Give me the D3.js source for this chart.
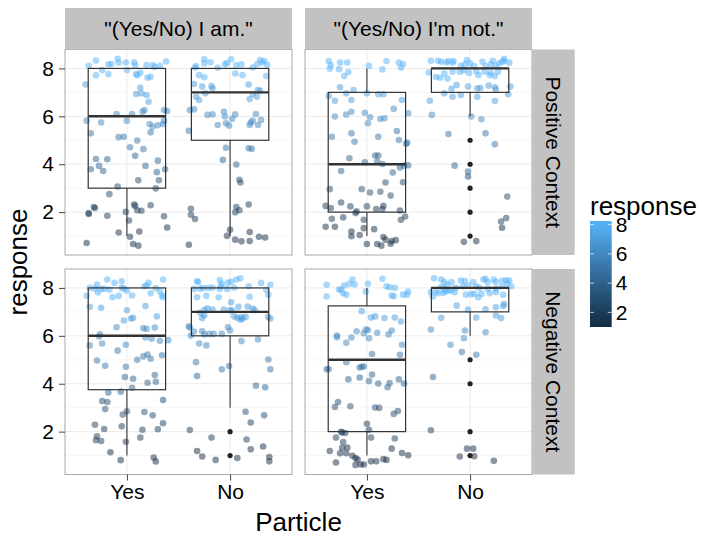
<!DOCTYPE html>
<html>
<head>
<meta charset="utf-8">
<script src="https://d3js.org/d3.v7.min.js"></script>
<style>
body { margin: 0; background: #fff; }
text { font-family: "Liberation Sans", Arial, Helvetica, sans-serif; fill: #000; }
</style>
</head>
<body>
<div id="chart"></div>
<script>
// facet labels and categories
const particles = ["Yes", "No"];
const questions = ['"(Yes/No) I am."', '"(Yes/No) I\'m not."'];
const contexts = ["Positive Context", "Negative Context"];
const yTicks = [2, 4, 6, 8];
const yMinor = [1, 3, 5, 7];
const legendTicks = [2, 4, 6, 8];

// jittered points: [x jitter (category units), jittered response]
const posAmYes = [[-0.37,8.11],[-0.30,8.33],[-0.24,7.93],[-0.30,7.71],[-0.18,8.17],[-0.15,8.18],[-0.09,8.40],[-0.08,8.24],[-0.01,8.25],[0.00,7.93],[0.07,8.26],[0.08,8.13],[0.10,7.72],[0.09,7.76],[0.13,7.82],[0.19,8.14],[0.20,7.61],[0.23,7.65],[0.25,8.14],[0.27,8.07],[0.32,8.11],[0.38,8.29],[-0.40,7.33],[-0.18,7.76],[0.13,7.19],[0.09,6.93],[0.14,6.96],[0.19,6.89],[0.21,6.61],[0.17,6.26],[0.15,6.19],[0.36,6.26],[0.39,6.22],[-0.10,6.10],[0.05,6.10],[-0.39,5.82],[-0.25,5.74],[0.00,5.82],[0.22,5.68],[0.25,5.57],[0.30,5.63],[0.35,5.68],[0.36,5.82],[-0.35,5.29],[-0.08,5.13],[-0.03,5.15],[0.10,4.99],[0.23,5.33],[0.03,4.71],[0.16,4.63],[0.08,4.35],[-0.30,4.22],[-0.19,4.21],[0.30,4.15],[-0.27,3.93],[-0.35,3.79],[-0.23,3.72],[0.18,3.93],[0.37,3.79],[0.29,3.67],[0.11,3.33],[0.31,3.33],[-0.09,3.07],[0.28,2.99],[-0.17,2.75],[-0.32,2.21],[-0.37,1.96],[-0.37,1.92],[-0.31,2.17],[-0.19,1.85],[-0.01,2.01],[0.07,2.32],[0.08,2.26],[0.10,2.08],[0.14,2.06],[0.23,2.29],[0.36,1.83],[0.02,1.65],[0.39,1.36],[-0.08,1.15],[0.12,1.19],[0.03,0.97],[-0.39,0.71],[0.06,0.67],[0.11,0.60]];
const posAmNo = [[-0.33,8.10],[-0.34,8.04],[-0.25,8.38],[-0.25,8.21],[-0.19,8.26],[-0.12,8.03],[-0.05,8.17],[-0.03,8.22],[0.01,8.38],[0.05,7.79],[0.06,8.14],[0.11,8.17],[0.12,7.72],[0.22,8.04],[0.26,8.17],[0.29,8.35],[0.31,8.24],[0.33,8.32],[0.36,8.15],[0.35,7.68],[-0.35,7.35],[-0.30,7.72],[-0.25,7.63],[-0.27,7.24],[-0.18,7.26],[-0.17,7.17],[-0.24,6.96],[-0.33,6.82],[-0.30,6.68],[0.18,7.33],[0.22,6.93],[0.27,7.10],[0.29,7.07],[0.19,6.72],[0.26,6.82],[-0.39,6.26],[-0.35,6.29],[-0.22,6.06],[-0.17,6.08],[-0.06,6.19],[-0.05,5.99],[0.02,5.90],[0.05,6.08],[0.25,6.10],[0.20,5.74],[0.22,5.82],[0.30,5.85],[-0.12,5.64],[-0.04,5.71],[-0.01,5.61],[0.19,5.64],[0.27,5.64],[-0.40,5.40],[0.18,4.67],[0.21,4.64],[-0.04,4.69],[-0.07,4.18],[0.06,3.99],[0.09,3.35],[0.10,3.24],[0.06,2.21],[0.09,2.08],[0.05,1.99],[0.18,2.32],[-0.38,2.14],[-0.38,1.89],[-0.34,1.71],[0.00,1.26],[-0.03,1.01],[0.05,0.85],[0.11,0.78],[0.19,0.79],[0.19,1.17],[0.28,0.97],[0.34,0.94],[-0.40,0.64]];
const posNotYes = [[-0.37,8.31],[-0.35,8.14],[-0.36,7.99],[-0.26,8.25],[-0.19,8.25],[-0.27,7.97],[-0.22,7.68],[-0.18,7.85],[0.02,8.11],[0.15,7.96],[0.19,8.31],[0.31,8.24],[0.35,8.18],[0.33,8.03],[-0.26,7.21],[-0.37,6.85],[-0.31,6.65],[-0.20,6.96],[-0.13,7.10],[-0.15,6.68],[0.00,6.96],[0.11,6.92],[0.16,6.92],[0.34,6.68],[0.26,6.31],[0.40,6.13],[-0.31,5.99],[-0.20,6.07],[-0.15,6.19],[-0.02,6.15],[0.03,5.96],[0.01,5.71],[0.13,5.89],[0.17,5.92],[-0.34,5.15],[-0.15,5.29],[-0.12,4.94],[0.11,5.15],[0.29,5.39],[0.31,5.01],[0.38,4.85],[0.39,4.90],[-0.17,4.25],[-0.02,4.08],[0.08,4.36],[0.11,4.36],[0.10,4.11],[0.15,4.01],[0.32,3.86],[0.36,3.94],[0.40,3.96],[-0.25,3.72],[0.25,3.65],[0.35,3.25],[-0.36,2.96],[0.18,3.24],[-0.05,2.96],[0.03,2.82],[0.13,2.85],[0.23,2.69],[-0.40,2.26],[-0.35,2.17],[-0.25,2.40],[-0.16,2.24],[-0.10,2.03],[0.00,2.24],[0.09,2.13],[0.15,2.13],[0.16,2.26],[0.32,2.07],[-0.34,1.72],[-0.23,1.78],[-0.11,1.96],[-0.03,1.68],[0.37,1.82],[0.33,1.68],[-0.40,1.39],[-0.31,1.39],[-0.03,1.33],[0.07,1.29],[-0.15,1.19],[-0.15,0.99],[-0.07,1.04],[0.16,0.96],[0.18,0.85],[0.24,0.79],[0.28,0.83],[0.00,0.67],[0.10,0.67],[0.14,0.60],[0.23,0.68]];
const posNotNo = [[-0.38,8.32],[-0.31,8.32],[-0.28,8.28],[-0.23,8.25],[-0.21,8.31],[-0.17,8.24],[-0.16,8.31],[-0.09,8.11],[-0.05,8.17],[-0.03,8.35],[0.00,8.21],[0.04,8.10],[0.12,8.28],[0.15,8.10],[0.20,8.17],[0.22,8.32],[0.25,8.10],[0.28,8.21],[0.31,8.28],[0.33,8.40],[0.38,8.24],[0.33,8.31],[-0.40,7.83],[-0.33,7.64],[-0.29,7.61],[-0.25,7.79],[-0.17,7.86],[-0.10,7.86],[-0.06,7.92],[-0.01,7.81],[0.06,7.88],[0.08,7.72],[0.14,7.86],[0.20,7.82],[0.27,7.86],[0.24,7.68],[0.19,7.71],[-0.22,7.58],[-0.18,7.15],[-0.13,7.31],[-0.02,7.24],[0.07,7.17],[0.10,7.18],[0.18,7.28],[0.24,7.21],[0.39,7.24],[-0.25,6.96],[-0.17,6.82],[-0.09,6.89],[0.07,6.82],[0.25,7.13],[0.37,6.92],[-0.39,6.65],[0.24,6.64],[-0.37,6.06],[0.01,5.99],[0.11,5.88],[-0.21,5.26],[0.15,5.29],[0.24,4.83],[-0.15,3.94],[-0.02,3.69],[-0.02,3.49],[0.36,2.65],[0.30,1.61],[0.35,1.75],[0.31,1.35],[-0.06,0.76],[0.06,0.79]];
const negAmYes = [[-0.39,7.67],[-0.36,8.01],[-0.31,7.97],[-0.29,8.14],[-0.28,7.81],[-0.25,7.96],[-0.22,7.96],[-0.19,8.35],[-0.17,7.92],[-0.14,7.61],[-0.12,8.21],[-0.08,7.67],[-0.05,8.28],[-0.05,8.01],[-0.03,7.97],[0.00,7.88],[0.05,7.68],[0.17,8.06],[0.19,8.10],[0.21,8.21],[0.23,7.78],[0.28,7.99],[0.32,7.85],[0.35,8.35],[0.34,7.68],[0.35,7.61],[-0.36,7.21],[-0.25,7.17],[0.00,7.07],[-0.03,6.64],[0.04,6.72],[0.06,6.75],[0.18,7.24],[0.29,6.81],[-0.10,6.36],[0.16,6.32],[0.19,6.29],[0.27,6.35],[-0.26,6.06],[-0.27,5.97],[-0.24,5.68],[-0.36,5.60],[-0.09,5.38],[-0.01,5.63],[0.18,5.93],[0.24,5.88],[0.32,5.79],[0.40,5.82],[0.34,5.19],[-0.29,4.97],[-0.21,4.75],[-0.01,4.71],[0.10,5.00],[0.16,5.14],[0.20,5.22],[0.23,5.04],[-0.02,4.28],[0.06,4.21],[0.27,4.36],[0.28,4.08],[0.20,4.04],[-0.18,3.63],[-0.06,3.67],[-0.24,3.28],[-0.19,3.24],[-0.21,2.94],[0.05,3.83],[0.35,3.32],[-0.04,2.71],[0.00,2.85],[0.17,2.82],[0.25,2.68],[-0.31,2.29],[-0.22,2.11],[-0.05,2.22],[0.15,2.08],[0.30,2.10],[0.35,2.35],[-0.29,1.81],[-0.30,1.64],[-0.25,1.61],[-0.01,1.58],[0.13,1.75],[-0.16,1.14],[-0.06,0.81],[0.26,0.92],[0.28,0.75]];
const negAmNo = [[-0.32,8.28],[-0.31,8.25],[-0.10,8.33],[-0.08,8.17],[-0.09,8.07],[-0.02,8.22],[0.01,8.26],[0.06,8.35],[0.10,8.40],[0.30,8.21],[0.39,8.13],[-0.35,7.96],[-0.29,7.97],[-0.26,8.00],[-0.21,8.00],[-0.17,8.01],[-0.10,7.96],[-0.03,7.96],[0.04,8.01],[0.18,8.07],[0.35,7.92],[-0.32,7.61],[-0.23,7.67],[-0.11,7.61],[0.01,7.40],[0.19,7.63],[0.37,7.71],[-0.22,7.15],[-0.25,7.08],[-0.29,6.96],[-0.25,6.86],[-0.27,6.74],[-0.17,7.10],[-0.06,7.10],[0.00,7.07],[0.02,7.06],[0.08,7.21],[0.17,7.22],[0.22,7.14],[0.24,7.07],[0.04,6.81],[0.07,6.75],[0.11,6.78],[0.10,6.67],[0.12,6.71],[0.15,6.79],[0.37,6.79],[0.39,6.72],[-0.40,6.40],[-0.39,6.35],[-0.38,6.01],[-0.35,6.18],[-0.27,6.19],[-0.25,6.06],[-0.20,6.08],[-0.16,6.08],[-0.08,6.08],[-0.02,6.36],[0.00,6.22],[0.11,5.78],[0.27,5.85],[-0.30,5.68],[-0.23,5.60],[-0.33,4.90],[-0.32,4.32],[-0.08,4.60],[-0.01,4.74],[0.37,5.01],[0.39,4.60],[0.25,3.92],[0.34,3.85],[0.15,2.83],[0.20,2.38],[0.33,2.68],[-0.39,2.07],[-0.18,1.75],[0.16,1.67],[0.20,1.26],[0.32,1.38],[-0.32,1.19],[-0.27,0.96],[-0.14,0.82],[0.07,0.90],[0.38,0.94],[0.38,0.76]];
const negNotYes = [[-0.39,8.13],[-0.39,7.64],[-0.27,7.93],[-0.25,7.92],[-0.23,7.78],[-0.22,8.10],[-0.20,7.71],[-0.17,8.17],[-0.14,8.35],[-0.12,8.14],[-0.01,7.85],[0.01,8.17],[0.15,8.38],[0.19,8.07],[0.22,8.03],[0.24,7.68],[0.26,7.65],[0.27,8.00],[0.35,7.72],[0.40,7.85],[0.39,7.72],[-0.05,7.03],[0.04,6.76],[0.08,6.81],[0.17,6.74],[0.27,6.76],[0.33,6.60],[-0.29,6.01],[-0.29,5.94],[-0.20,5.71],[-0.15,5.93],[-0.10,6.19],[-0.03,6.11],[-0.01,6.26],[0.01,6.24],[0.02,5.90],[0.10,6.13],[0.21,6.06],[0.24,6.22],[0.34,5.63],[0.05,5.24],[0.32,5.21],[-0.20,4.90],[-0.39,4.60],[-0.37,4.61],[-0.07,4.68],[-0.05,4.71],[-0.03,4.72],[0.05,4.38],[-0.18,4.18],[-0.07,4.26],[0.02,4.11],[0.11,4.01],[0.20,3.85],[0.22,4.03],[0.31,4.18],[0.36,4.01],[-0.28,3.24],[-0.31,3.03],[-0.16,3.06],[0.08,3.01],[0.12,2.99],[0.26,2.74],[0.30,2.86],[0.00,2.33],[0.02,2.08],[-0.25,1.99],[-0.24,1.96],[-0.21,1.94],[-0.30,1.75],[0.04,1.75],[0.27,1.71],[-0.23,1.57],[-0.24,1.32],[-0.19,1.33],[-0.36,1.19],[-0.26,1.10],[-0.20,1.10],[-0.14,0.99],[-0.11,0.90],[-0.09,0.83],[-0.06,0.63],[-0.03,0.63],[0.04,0.76],[0.09,0.76],[0.16,0.85],[0.19,0.82],[0.24,1.29],[0.34,1.11],[0.40,1.01],[-0.30,0.71],[-0.11,0.61]];
const negNotNo = [[-0.35,8.40],[-0.28,8.35],[-0.25,8.24],[-0.22,8.14],[-0.18,8.24],[-0.09,8.31],[-0.05,8.29],[0.03,8.24],[0.13,8.35],[0.15,8.38],[0.17,8.24],[0.23,8.35],[0.25,8.24],[0.31,8.31],[0.35,8.32],[0.38,8.31],[0.36,8.17],[0.40,8.07],[-0.28,8.04],[-0.25,7.96],[-0.21,7.89],[-0.14,8.00],[-0.07,8.07],[-0.02,8.10],[0.06,8.07],[0.09,8.00],[0.17,7.96],[0.25,7.96],[0.31,8.07],[-0.38,7.82],[-0.33,7.85],[-0.31,7.78],[-0.26,7.79],[-0.24,7.85],[-0.19,7.89],[-0.15,7.82],[-0.04,7.72],[0.01,7.74],[0.04,7.75],[0.08,7.61],[0.11,7.75],[0.19,7.78],[0.25,7.82],[0.32,7.71],[-0.36,7.64],[0.33,7.33],[0.32,7.24],[0.25,7.19],[-0.13,7.26],[-0.02,7.10],[0.15,7.11],[0.25,6.85],[0.30,6.74],[-0.28,6.75],[0.06,6.76],[-0.38,6.26],[-0.05,6.22],[-0.06,5.90],[0.15,6.15],[-0.19,5.63],[-0.08,5.32],[0.06,5.21],[-0.36,4.28],[-0.38,2.06],[-0.03,1.29],[0.03,1.29],[-0.10,0.96],[0.04,0.97],[0.23,0.78]];

// boxplot stats: [lower whisker, q1, median, q3, upper whisker]
const posAmYesBox = [1, 3, 6, 8, 8];
const posAmNoBox = [1, 5, 7, 8, 8];
const posNotYesBox = [1, 2, 4, 7, 8];
const posNotNoBox = [6, 7, 8, 8, 8];
const negAmYesBox = [1, 3.75, 6, 8, 8];
const negAmNoBox = [3, 6, 7, 8, 8];
const negNotYesBox = [1, 2, 5, 7.25, 8];
const negNotNoBox = [6, 7, 8, 8, 8];
// outliers
const posNotNoOut = [5, 4, 3, 2, 1];
const negAmNoOut = [2, 1];
const negNotNoOut = [5, 4, 2, 1];

const panels = [
  {row: 0, col: 0, groups: [{p: "Yes", pts: posAmYes, box: posAmYesBox, out: []}, {p: "No", pts: posAmNo, box: posAmNoBox, out: []}]},
  {row: 0, col: 1, groups: [{p: "Yes", pts: posNotYes, box: posNotYesBox, out: []}, {p: "No", pts: posNotNo, box: posNotNoBox, out: posNotNoOut}]},
  {row: 1, col: 0, groups: [{p: "Yes", pts: negAmYes, box: negAmYesBox, out: []}, {p: "No", pts: negAmNo, box: negAmNoBox, out: negAmNoOut}]},
  {row: 1, col: 1, groups: [{p: "Yes", pts: negNotYes, box: negNotYesBox, out: []}, {p: "No", pts: negNotNo, box: negNotNoBox, out: negNotNoOut}]}
];

const width = 702, height = 536;
const colX = [65, 305], panelW = 227;
const rowY = [49.5, 269], panelH = 205.5;
const stripTop = 8, stripRightW = 42.7;

const svg = d3.select("#chart").append("svg")
    .attr("width", width)
    .attr("height", height);

// colour scale (ggplot default gradient)
const color = d3.scaleLinear()
    .domain([1, 8])
    .range(["#132B43", "#56B1F7"])
    .interpolate(d3.interpolateLab)
    .clamp(true);

panels.forEach(function(pan) {
    const x0 = colX[pan.col], y0 = rowY[pan.row];
    const x = d3.scalePoint().domain(particles).range([x0, x0 + panelW]).padding(0.6);
    const y = d3.scaleLinear().domain([0.21, 8.79]).range([y0 + panelH, y0]);
    const step = x.step();
    const g = svg.append("g");

    g.append("rect")
        .attr("x", x0).attr("y", y0).attr("width", panelW).attr("height", panelH)
        .attr("fill", "#fff");

    // grid
    g.selectAll(".minor").data(yMinor).enter().append("line")
        .attr("x1", x0).attr("x2", x0 + panelW)
        .attr("y1", d => y(d)).attr("y2", d => y(d))
        .attr("stroke", "#f5f5f5").attr("stroke-width", 0.8);
    g.selectAll(".major").data(yTicks).enter().append("line")
        .attr("x1", x0).attr("x2", x0 + panelW)
        .attr("y1", d => y(d)).attr("y2", d => y(d))
        .attr("stroke", "#ebebeb").attr("stroke-width", 1);
    g.selectAll(".vmajor").data(particles).enter().append("line")
        .attr("x1", d => x(d)).attr("x2", d => x(d))
        .attr("y1", y0).attr("y2", y0 + panelH)
        .attr("stroke", "#ebebeb").attr("stroke-width", 1);

    pan.groups.forEach(function(grp) {
        const cx = x(grp.p);
        // jittered points
        g.append("g").selectAll("circle").data(grp.pts).enter().append("circle")
            .attr("cx", d => cx + d[0] * step)
            .attr("cy", d => y(d[1]))
            .attr("r", 3.3)
            .attr("fill", d => color(Math.round(d[1])))
            .attr("fill-opacity", 0.5);

        // boxplot
        const b = grp.box, bw = 0.75 * step;
        const bg = g.append("g").attr("stroke", "#333").attr("fill", "none");
        bg.append("line").attr("x1", cx).attr("x2", cx).attr("y1", y(b[0])).attr("y2", y(b[1])).attr("stroke-width", 1.1);
        bg.append("line").attr("x1", cx).attr("x2", cx).attr("y1", y(b[3])).attr("y2", y(b[4])).attr("stroke-width", 1.1);
        bg.append("rect").attr("x", cx - bw / 2).attr("width", bw)
            .attr("y", y(b[3])).attr("height", y(b[1]) - y(b[3])).attr("stroke-width", 1.2);
        bg.append("line").attr("x1", cx - bw / 2).attr("x2", cx + bw / 2)
            .attr("y1", y(b[2])).attr("y2", y(b[2])).attr("stroke-width", 2.4);
        g.append("g").selectAll("circle").data(grp.out).enter().append("circle")
            .attr("cx", cx).attr("cy", d => y(d)).attr("r", 2.6).attr("fill", "#222");
    });

    g.append("rect")
        .attr("x", x0).attr("y", y0).attr("width", panelW).attr("height", panelH)
        .attr("fill", "none").attr("stroke", "#a8a8a8").attr("stroke-width", 1);

    // axes
    if (pan.col === 0) {
        const ax = g.append("g").attr("transform", `translate(${x0},0)`)
            .call(d3.axisLeft(y).tickValues(yTicks).tickSize(6).tickPadding(5));
        ax.select(".domain").remove();
        ax.selectAll("line").attr("stroke", "#444");
        ax.selectAll("text").style("font-size", "21px").attr("fill", "#000")
            .style("font-family", '"Liberation Sans", Arial, sans-serif');
    }
    if (pan.row === 1) {
        const ax = g.append("g").attr("transform", `translate(0,${y0 + panelH})`)
            .call(d3.axisBottom(x).tickSize(6).tickPadding(4));
        ax.select(".domain").remove();
        ax.selectAll("line").attr("stroke", "#444");
        ax.selectAll("text").style("font-size", "21px").attr("fill", "#000")
            .style("font-family", '"Liberation Sans", Arial, sans-serif');
    }
});

// top strips
questions.forEach(function(q, i) {
    svg.append("rect")
        .attr("x", colX[i]).attr("y", stripTop)
        .attr("width", panelW).attr("height", rowY[0] - stripTop)
        .attr("fill", "#c2c2c2");
    svg.append("text")
        .attr("x", colX[i] + panelW / 2).attr("y", 36)
        .attr("text-anchor", "middle")
        .style("font-size", "21px")
        .text(q);
});

// right strips
contexts.forEach(function(c, i) {
    const sx = colX[1] + panelW;
    svg.append("rect")
        .attr("x", sx).attr("y", rowY[i])
        .attr("width", stripRightW).attr("height", panelH)
        .attr("fill", "#c2c2c2");
    svg.append("text")
        .attr("transform", `translate(${sx + stripRightW / 2 - 7.5},${rowY[i] + panelH / 2}) rotate(90)`)
        .attr("text-anchor", "middle")
        .style("font-size", "21px")
        .text(c);
});

// axis titles
svg.append("text")
    .attr("x", (colX[0] + colX[1] + panelW) / 2).attr("y", 531)
    .attr("text-anchor", "middle")
    .style("font-size", "26px")
    .text("Particle");
svg.append("text")
    .attr("transform", `translate(27,${(rowY[0] + rowY[1] + panelH) / 2}) rotate(-90)`)
    .attr("text-anchor", "middle")
    .style("font-size", "26px")
    .text("response");

// legend colourbar
const legendY = d3.scaleLinear().domain([1, 8]).range([327, 224.6]);
const barTop = 221, barBottom = 327, barX = 590, barW = 21.7;
const defs = svg.append("defs");
const grad = defs.append("linearGradient").attr("id", "lg")
    .attr("x1", 0).attr("y1", 1).attr("x2", 0).attr("y2", 0);
d3.range(0, 1.0001, 0.1).forEach(function(t) {
    const v = legendY.invert(barBottom - t * (barBottom - barTop));
    grad.append("stop").attr("offset", t).attr("stop-color", color(v));
});
svg.append("rect")
    .attr("x", barX).attr("y", barTop).attr("width", barW).attr("height", barBottom - barTop)
    .attr("fill", "url(#lg)");
svg.append("g").selectAll("line").data(legendTicks).enter().append("line")
    .attr("x1", barX).attr("x2", barX + 4)
    .attr("y1", d => legendY(d)).attr("y2", d => legendY(d))
    .attr("stroke", "#fff").attr("stroke-opacity", 0.7);
svg.append("g").selectAll("line").data(legendTicks).enter().append("line")
    .attr("x1", barX + barW - 4).attr("x2", barX + barW)
    .attr("y1", d => legendY(d)).attr("y2", d => legendY(d))
    .attr("stroke", "#fff").attr("stroke-opacity", 0.7);
svg.append("g").selectAll("text").data(legendTicks).enter().append("text")
    .attr("x", barX + barW + 4).attr("y", d => legendY(d))
    .attr("dy", "0.35em")
    .style("font-size", "21px")
    .text(d => d);
svg.append("text")
    .attr("x", barX).attr("y", 215)
    .style("font-size", "26px")
    .text("response");
</script>
</body>
</html>
